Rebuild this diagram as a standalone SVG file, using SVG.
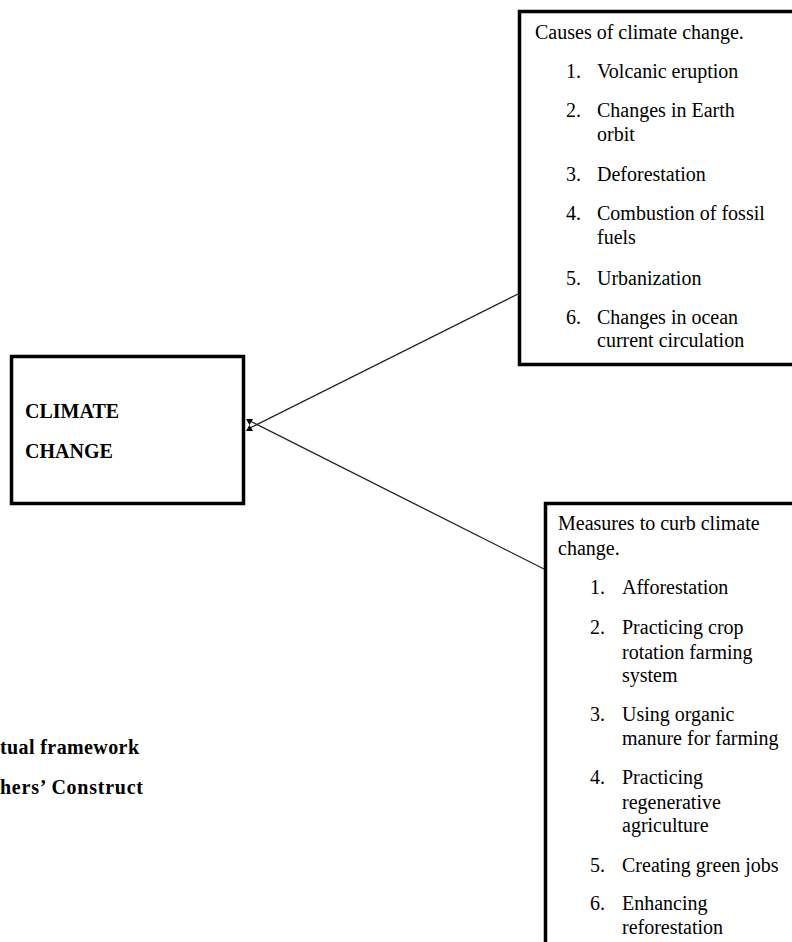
<svg xmlns="http://www.w3.org/2000/svg" width="792" height="942" viewBox="0 0 792 942">
<style>
.box{fill:#fff;stroke:#000;stroke-width:3.5}
.t{font-family:"Liberation Serif","Times New Roman",serif;font-size:20px;fill:#000}
.b{font-family:"Liberation Serif","Times New Roman",serif;font-size:20px;font-weight:bold;fill:#000}
.c{stroke:#222;stroke-width:1.3;fill:none}
</style>
<rect width="792" height="942" fill="#fff"/>
<g id="connectors">
<line class="c" x1="250" y1="428" x2="520" y2="293"/>
<line class="c" x1="250" y1="421" x2="546" y2="570"/>
<polygon points="246,419 253,419 249.5,425 253,431 246,431 249.5,425" fill="#000"/>
</g>
<g id="climate-change">
<rect class="box" x="11.5" y="356.5" width="232" height="147"/>
<text class="b" x="25" y="418">CLIMATE</text>
<text class="b" x="25" y="458">CHANGE</text>
</g>
<g id="causes">
<rect class="box" x="519.5" y="11.5" width="290" height="353"/>
<text class="t" x="535" y="39">Causes of climate change.</text>
<text class="t" x="566" y="78">1.</text><text class="t" x="597" y="78">Volcanic eruption</text>
<text class="t" x="566" y="117">2.</text><text class="t" x="597" y="117">Changes in Earth</text>
<text class="t" x="597" y="141">orbit</text>
<text class="t" x="566" y="181">3.</text><text class="t" x="597" y="181">Deforestation</text>
<text class="t" x="566" y="220">4.</text><text class="t" x="597" y="220">Combustion of fossil</text>
<text class="t" x="597" y="244">fuels</text>
<text class="t" x="566" y="285">5.</text><text class="t" x="597" y="285">Urbanization</text>
<text class="t" x="566" y="324">6.</text><text class="t" x="597" y="324">Changes in ocean</text>
<text class="t" x="597" y="347">current circulation</text>
</g>
<g id="measures">
<rect class="box" x="545.5" y="503.5" width="270" height="460"/>
<text class="t" x="558" y="530">Measures to curb climate</text>
<text class="t" x="558" y="555">change.</text>
<text class="t" x="590" y="594">1.</text><text class="t" x="622" y="594">Afforestation</text>
<text class="t" x="590" y="634">2.</text><text class="t" x="622" y="634">Practicing crop</text>
<text class="t" x="622" y="659">rotation farming</text>
<text class="t" x="622" y="682">system</text>
<text class="t" x="590" y="721">3.</text><text class="t" x="622" y="721">Using organic</text>
<text class="t" x="622" y="745">manure for farming</text>
<text class="t" x="590" y="784">4.</text><text class="t" x="622" y="784">Practicing</text>
<text class="t" x="622" y="809">regenerative</text>
<text class="t" x="622" y="832">agriculture</text>
<text class="t" x="590" y="872">5.</text><text class="t" x="622" y="872">Creating green jobs</text>
<text class="t" x="590" y="910">6.</text><text class="t" x="622" y="910">Enhancing</text>
<text class="t" x="622" y="934">reforestation</text>
</g>
<g id="caption">
<text class="b" x="0" y="754" textLength="139">tual framework</text>
<text class="b" x="0" y="794" textLength="143">hers’ Construct</text>
</g>
</svg>
